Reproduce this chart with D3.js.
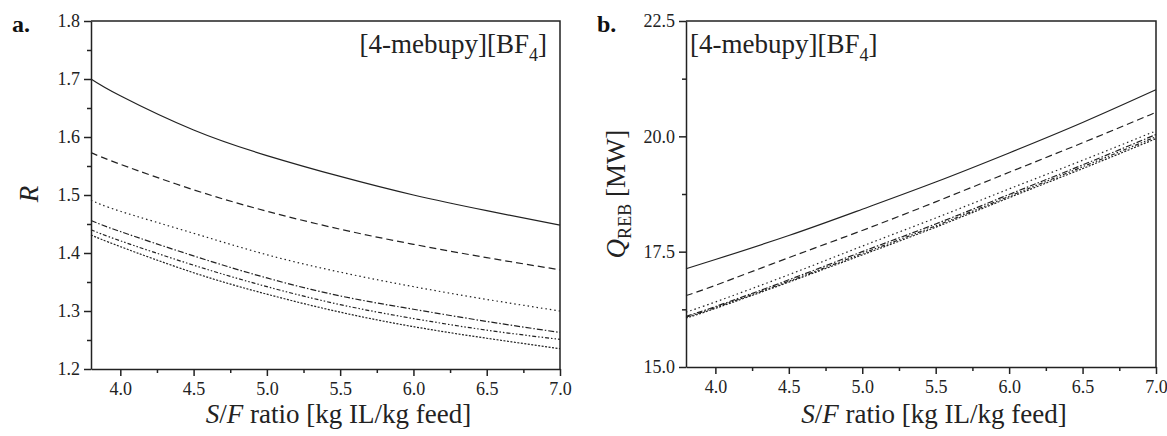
<!DOCTYPE html>
<html>
<head>
<meta charset="utf-8">
<script src="https://cdn.jsdelivr.net/npm/d3@7"></script>
<style>
  body { margin: 0; background: #fff; }
  svg { display: block; font-family: "Liberation Serif", "Times New Roman", serif; }
  .axis path, .axis line { stroke: #222; stroke-width: 1.5; }
  .axis text { font-size: 18px; fill: #222; font-family: "Liberation Serif", "Times New Roman", serif; }
</style>
</head>
<body>
<svg id="chart" width="1167" height="436"></svg>
<script>
// S/F ratio sample points shared by all curves
const sfRatio = [3.8, 4.0, 4.5, 5.0, 5.5, 6.0, 6.5, 7.0];

// panel a: reflux ratio R
const rCurve1 = [1.700, 1.671, 1.612, 1.568, 1.532, 1.500, 1.473, 1.448];
const rCurve2 = [1.573, 1.553, 1.509, 1.472, 1.441, 1.415, 1.392, 1.371];
const rCurve3 = [1.491, 1.472, 1.434, 1.397, 1.367, 1.342, 1.320, 1.300];
const rCurve4 = [1.456, 1.437, 1.395, 1.357, 1.326, 1.303, 1.282, 1.263];
const rCurve5 = [1.440, 1.421, 1.379, 1.342, 1.311, 1.287, 1.267, 1.251];
const rCurve6 = [1.431, 1.411, 1.366, 1.329, 1.298, 1.273, 1.253, 1.235];

// panel b: reboiler duty Q_REB [MW]
const qCurve1 = [17.13, 17.33, 17.85, 18.42, 19.01, 19.64, 20.30, 21.01];
const qCurve2 = [16.55, 16.77, 17.37, 17.96, 18.58, 19.22, 19.86, 20.52];
const qCurve3 = [16.19, 16.41, 17.00, 17.62, 18.23, 18.86, 19.48, 20.12];
const qCurve4 = [16.10, 16.31, 16.89, 17.50, 18.10, 18.74, 19.38, 20.04];
const qCurve5 = [16.08, 16.29, 16.86, 17.46, 18.06, 18.70, 19.34, 19.99];
const qCurve6 = [16.06, 16.27, 16.84, 17.43, 18.03, 18.67, 19.30, 19.95];

const xTicks = [4.0, 4.5, 5.0, 5.5, 6.0, 6.5, 7.0];
const rTicks = [1.2, 1.3, 1.4, 1.5, 1.6, 1.7, 1.8];
const qTicks = [15.0, 17.5, 20.0, 22.5];

const dashes = [null, "7,4", "1.5,3", "6,2,1.5,2", "4,2,1.5,2,1.5,2", "2,1.5"];

const svg = d3.select("#chart");

function drawPanel(box, yDomain, yTicks, yMinorStep, yFormat, curves) {
    const x = d3.scaleLinear().domain([3.8, 7.0]).range([box.left, box.right]);
    const y = d3.scaleLinear().domain(yDomain).range([box.bottom, box.top]);
    const g = svg.append("g");

    const xMinor = d3.range(3.75, 7.01, 0.25).filter(v => v >= 3.8 && !xTicks.some(t => Math.abs(t - v) < 1e-6));
    const yMinor = d3.range(yDomain[0], yDomain[1] + 1e-6, yMinorStep).filter(v => !yTicks.some(t => Math.abs(t - v) < 1e-6));

    g.append("g").attr("class", "axis")
        .attr("transform", "translate(0," + box.bottom + ")")
        .call(d3.axisBottom(x).tickValues(xTicks).tickSize(7).tickPadding(6).tickSizeOuter(0).tickFormat(d3.format(".1f")));
    g.append("g").attr("class", "axis")
        .attr("transform", "translate(0," + box.bottom + ")")
        .call(d3.axisBottom(x).tickValues(xMinor).tickSize(4).tickFormat("").tickSizeOuter(0))
        .select(".domain").remove();

    g.append("g").attr("class", "axis")
        .attr("transform", "translate(" + box.left + ",0)")
        .call(d3.axisLeft(y).tickValues(yTicks).tickSize(7).tickPadding(4).tickSizeOuter(0).tickFormat(d3.format(yFormat)));
    g.append("g").attr("class", "axis")
        .attr("transform", "translate(" + box.left + ",0)")
        .call(d3.axisLeft(y).tickValues(yMinor).tickSize(4).tickFormat("").tickSizeOuter(0))
        .select(".domain").remove();

    // frame on top and right
    g.append("path")
        .attr("d", "M" + box.left + "," + box.top + "H" + box.right + "V" + box.bottom)
        .attr("fill", "none")
        .attr("stroke", "#222")
        .attr("stroke-width", 1.5);

    const line = d3.line()
        .x((d, i) => x(sfRatio[i]))
        .y(d => y(d))
        .curve(d3.curveNatural);

    curves.forEach((c, i) => {
        g.append("path")
            .attr("d", line(c))
            .attr("fill", "none")
            .attr("stroke", "#222")
            .attr("stroke-width", 1.2)
            .attr("stroke-dasharray", dashes[i]);
    });

    // x axis title
    const t = g.append("text")
        .attr("x", (box.left + box.right) / 2 + 13)
        .attr("y", 423)
        .attr("text-anchor", "middle")
        .attr("font-size", 27)
        .attr("fill", "#222");
    t.append("tspan").attr("font-style", "italic").text("S");
    t.append("tspan").text("/");
    t.append("tspan").attr("font-style", "italic").text("F");
    t.append("tspan").text(" ratio [kg IL/kg feed]");

    return g;
}

function compound(g, xPos, anchor) {
    const t = g.append("text")
        .attr("x", xPos)
        .attr("y", 53)
        .attr("text-anchor", anchor)
        .attr("font-size", 27)
        .attr("fill", "#222");
    t.append("tspan").text("[4-mebupy][BF");
    t.append("tspan").attr("font-size", 18).attr("dy", 8).text("4");
    t.append("tspan").attr("dy", -8).text("]");
}

const gA = drawPanel({left: 91, right: 560, top: 21, bottom: 369}, [1.2, 1.8], rTicks, 0.05, ".1f",
    [rCurve1, rCurve2, rCurve3, rCurve4, rCurve5, rCurve6]);
compound(gA, 547, "end");

const gB = drawPanel({left: 686, right: 1156, top: 21, bottom: 367}, [15.0, 22.5], qTicks, 1.25, ".1f",
    [qCurve1, qCurve2, qCurve3, qCurve4, qCurve5, qCurve6]);
compound(gB, 690, "start");

// y axis titles
gA.append("text")
    .attr("transform", "translate(38,194) rotate(-90)")
    .attr("text-anchor", "middle")
    .attr("font-size", 27)
    .attr("font-style", "italic")
    .attr("fill", "#222")
    .text("R");

const qLabel = gB.append("text")
    .attr("transform", "translate(625,194) rotate(-90)")
    .attr("text-anchor", "middle")
    .attr("font-size", 27)
    .attr("fill", "#222");
qLabel.append("tspan").attr("font-style", "italic").text("Q");
qLabel.append("tspan").attr("font-size", 18).attr("dy", 6).text("REB");
qLabel.append("tspan").attr("dy", -6).text(" [MW]");

// panel letters
svg.append("text").attr("x", 12).attr("y", 32).attr("font-size", 24).attr("font-weight", "bold").attr("fill", "#111").text("a.");
svg.append("text").attr("x", 597).attr("y", 32).attr("font-size", 24).attr("font-weight", "bold").attr("fill", "#111").text("b.");
</script>
</body>
</html>
